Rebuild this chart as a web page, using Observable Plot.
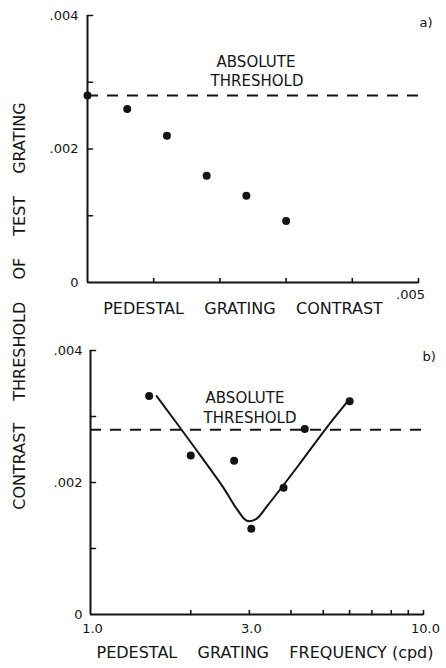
<!DOCTYPE html>
<html>
<head>
<meta charset="utf-8">
<script src="https://cdn.jsdelivr.net/npm/d3@7"></script>
<script src="https://cdn.jsdelivr.net/npm/@observablehq/plot@0.6"></script>
<style>
  body { margin: 0; background: #fff; }
  #wrap { position: relative; width: 446px; height: 668px; font-family: "DejaVu Sans", sans-serif; color: #141414; background: #fff; }
  #ytitle { position: absolute; left: 20px; top: 306px; transform: translate(-50%, -50%) rotate(-90deg);
            white-space: nowrap; font-size: 16px; word-spacing: 17px; line-height: 1; z-index: 2; }
  svg { display: block; }
</style>
</head>
<body>
<div id="wrap"><div id="ytitle">CONTRAST THRESHOLD OF TEST GRATING</div></div>
<script>
// ---- data ----
const pedestalContrastA = [0, 0.0006, 0.0012, 0.0018, 0.0024, 0.003];
const testThresholdA    = [0.0028, 0.0026, 0.0022, 0.0016, 0.0013, 0.00092];

const pedestalFreqB  = [1.5, 2.0, 2.7, 3.04, 3.8, 4.4, 6.0];
const testThresholdB = [0.00331, 0.00241, 0.00233, 0.0013, 0.00192, 0.00281, 0.00323];

const fitFreqB      = [1.58, 2.0, 2.5, 2.75, 2.95, 3.15, 3.4, 4.2, 5.1, 5.9];
const fitThresholdB = [0.00331, 0.00261, 0.00193, 0.0016, 0.00142, 0.00145, 0.00165, 0.00225, 0.00282, 0.00322];

const absoluteThreshold = 0.0028;

const yTicks       = [0.001, 0.002, 0.003, 0.004];
const yTickLabels  = [0, 0.002, 0.004];
const xTicksA      = [0.001, 0.002, 0.003, 0.004, 0.005];
const xTickLabelsA = [0.005];
const xTicksB      = [2, 3, 4, 5, 6, 7, 8, 9, 10];
const xTickLabelsB = [1, 3, 10];

const titleA = ["PEDESTAL", "GRATING", "CONTRAST"];
const titleB = ["PEDESTAL", "GRATING", "FREQUENCY"];
const unitB = "(cpd)";
const thresholdWords = ["ABSOLUTE", "THRESHOLD"];

// ---- styling ----
const ink = "#141414";
const font = "DejaVu Sans, sans-serif";
const gap = "\u00a0".repeat(4);
const fmtContrast = d => d === 0 ? "0" : d3.format(".3f")(d).replace(/^0/, "");
const fmtFreq = d3.format(".1f");
const tickShape = {draw(context, l) { context.moveTo(0, 0); context.lineTo(0, -l); }};

const rowsA = pedestalContrastA.map((x, i) => ({x, y: testThresholdA[i]}));
const rowsB = pedestalFreqB.map((x, i) => ({x, y: testThresholdB[i]}));
const fitB = fitFreqB.map((x, i) => ({x, y: fitThresholdB[i]}));

function inwardTicksY(ticks) {
  return Plot.vector(ticks, {y: d => d, frameAnchor: "left", anchor: "start", rotate: 90, length: 5,
    shape: tickShape, stroke: ink, strokeWidth: 1.6});
}
function inwardTicksX(ticks) {
  return Plot.vector(ticks, {x: d => d, frameAnchor: "bottom", anchor: "start", rotate: 0, length: 4,
    shape: tickShape, stroke: ink, strokeWidth: 1.6});
}

const plotA = Plot.plot({
  width: 446, height: 325,
  marginLeft: 87, marginRight: 28, marginTop: 15, marginBottom: 43,
  style: {fontFamily: font, color: ink, background: "white", overflow: "visible"},
  x: {domain: [0, 0.005], axis: null},
  y: {domain: [0, 0.004], axis: null},
  marks: [
    Plot.ruleX([0], {stroke: ink, strokeWidth: 2}),
    Plot.ruleY([0], {stroke: ink, strokeWidth: 2}),
    inwardTicksY(yTicks),
    inwardTicksX(xTicksA),
    Plot.axisY({ticks: yTickLabels, tickSize: 0, tickPadding: 9, tickFormat: fmtContrast, fontSize: 13, label: null}),
    Plot.axisX({ticks: xTickLabelsA, tickSize: 0, tickPadding: 7, tickFormat: fmtContrast, fontSize: 13, dx: -8, label: null}),
    Plot.ruleY([absoluteThreshold], {stroke: ink, strokeWidth: 2, strokeDasharray: "11,9"}),
    Plot.dot(rowsA, {x: "x", y: "y", r: 4, fill: ink, stroke: "none"}),
    Plot.text([absoluteThreshold], {y: d => d, text: () => thresholdWords[0], frameAnchor: "middle", dx: 3, dy: -33, fontSize: 15}),
    Plot.text([absoluteThreshold], {y: d => d, text: () => thresholdWords[1], frameAnchor: "middle", dx: 4, dy: -14, fontSize: 15}),
    Plot.text([titleA.join(gap)], {text: d => d, frameAnchor: "bottom", dy: 31, dx: -10, fontSize: 16}),
    Plot.text(["a)"], {text: d => d, frameAnchor: "top-right", textAnchor: "start", dx: 1, dy: 2, fontSize: 13})
  ]
});

const plotB = Plot.plot({
  width: 446, height: 343,
  marginLeft: 90, marginRight: 23, marginTop: 25, marginBottom: 54,
  style: {fontFamily: font, color: ink, background: "white", overflow: "visible"},
  x: {type: "log", domain: [1, 10], axis: null},
  y: {domain: [0, 0.004], axis: null},
  marks: [
    Plot.ruleX([1], {stroke: ink, strokeWidth: 2}),
    Plot.ruleY([0], {stroke: ink, strokeWidth: 2}),
    inwardTicksY(yTicks),
    inwardTicksX(xTicksB),
    Plot.axisY({ticks: yTickLabels, tickSize: 0, tickPadding: 8, tickFormat: fmtContrast, fontSize: 13, label: null}),
    Plot.axisX({ticks: xTickLabelsB, tickSize: 0, tickPadding: 9, tickFormat: fmtFreq, fontSize: 13, dx: 2, label: null}),
    Plot.ruleY([absoluteThreshold], {stroke: ink, strokeWidth: 2, strokeDasharray: "11,9"}),
    Plot.line(fitB, {x: "x", y: "y", curve: "catmull-rom", stroke: ink, strokeWidth: 2}),
    Plot.dot(rowsB, {x: "x", y: "y", r: 4, fill: ink, stroke: "none"}),
    Plot.text([absoluteThreshold], {y: d => d, text: () => thresholdWords[0], frameAnchor: "middle", dx: -12, dy: -32, fontSize: 15}),
    Plot.text([absoluteThreshold], {y: d => d, text: () => thresholdWords[1], frameAnchor: "middle", dx: -7, dy: -12, fontSize: 15}),
    Plot.text([titleB.join(gap) + "\u00a0" + unitB], {text: d => d, frameAnchor: "bottom", dy: 43, dx: 8, fontSize: 16}),
    Plot.text(["b)"], {text: d => d, frameAnchor: "top-right", textAnchor: "start", dx: -1, dy: 1, fontSize: 13})
  ]
});

const wrap = document.getElementById("wrap");
wrap.appendChild(plotA);
wrap.appendChild(plotB);
</script>
</body>
</html>
